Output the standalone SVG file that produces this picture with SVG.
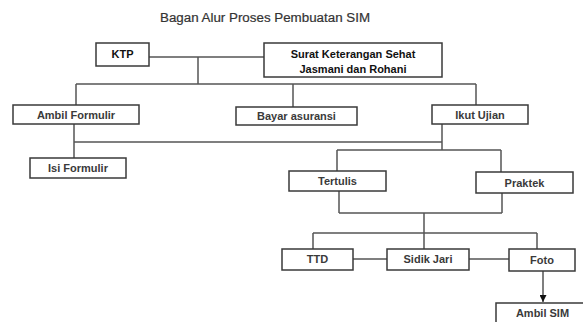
<svg xmlns="http://www.w3.org/2000/svg" width="583" height="322" viewBox="0 0 583 322">
<defs>
<style>
.box{fill:#fff;stroke:#3a3a3a;stroke-width:1.5}
.lbl{font-family:"Liberation Sans",Arial,sans-serif;font-size:11px;font-weight:bold;fill:#3a3a3a;text-anchor:middle}
.blk{fill:#111}
.ln{fill:none;stroke:#555;stroke-width:1.5}
.title{font-family:"Liberation Sans",Arial,sans-serif;font-size:12.5px;fill:#333;text-anchor:start;stroke:#333;stroke-width:0.2}
</style>
<marker id="ah" viewBox="0 0 10 10" refX="10" refY="5" markerWidth="7" markerHeight="7" orient="auto" markerUnits="userSpaceOnUse">
<path d="M0,0 L10,5 L0,10 z" fill="#111"/>
</marker>
</defs>
<rect width="583" height="322" fill="#fff"/>
<text class="title" x="160" y="22" textLength="210" lengthAdjust="spacingAndGlyphs">Bagan Alur Proses Pembuatan SIM</text>
<g id="connectors">
<path class="ln" d="M149,57 H264"/>
<path class="ln" d="M198,57 V84"/>
<path class="ln" d="M76,84 H476"/>
<path class="ln" d="M76,84 V105 M293,84 V107 M476,84 V105"/>
<path class="ln" d="M74,124 V158"/>
<path class="ln" d="M74,142 H442"/>
<path class="ln" d="M442,124 V150"/>
<path class="ln" d="M337,150 H501"/>
<path class="ln" d="M337,150 V171 M501,150 V172"/>
<path class="ln" d="M339,191 V213 M502,193 V213 M339,213 H502"/>
<path class="ln" d="M424,213 V249"/>
<path class="ln" d="M313,233 H537"/>
<path class="ln" d="M313,233 V249 M537,233 V249"/>
<path class="ln" d="M353,259 H387 M469,259 H509"/>
<path class="ln" d="M543,271 V302" stroke="#111" marker-end="url(#ah)"/>
</g>
<g id="ktp"><rect class="box" x="96" y="43" width="53" height="23"/><text class="lbl blk" x="122.5" y="58">KTP</text></g>
<g id="surat"><rect class="box" x="264" y="43" width="178" height="34"/><text class="lbl blk" x="353" y="58">Surat Keterangan Sehat</text><text class="lbl blk" x="353" y="73">Jasmani dan Rohani</text></g>
<g id="ambil-formulir"><rect class="box" x="13" y="105" width="126" height="19"/><text class="lbl" x="76" y="118.5">Ambil Formulir</text></g>
<g id="bayar-asuransi"><rect class="box" x="236" y="107" width="121" height="18"/><text class="lbl" x="296.5" y="120">Bayar asuransi</text></g>
<g id="ikut-ujian"><rect class="box" x="432" y="105" width="96" height="19"/><text class="lbl" x="480" y="118.5">Ikut Ujian</text></g>
<g id="isi-formulir"><rect class="box" x="30" y="158" width="96" height="20"/><text class="lbl" x="78" y="172">Isi Formulir</text></g>
<g id="tertulis"><rect class="box" x="289" y="171" width="97" height="20"/><text class="lbl" x="337.5" y="184.5">Tertulis</text></g>
<g id="praktek"><rect class="box" x="476" y="172" width="97" height="21"/><text class="lbl" x="524.5" y="186.5">Praktek</text></g>
<g id="ttd"><rect class="box" x="282" y="249" width="71" height="21"/><text class="lbl" x="317.5" y="263">TTD</text></g>
<g id="sidik-jari"><rect class="box" x="387" y="249" width="82" height="21"/><text class="lbl" x="428" y="263">Sidik Jari</text></g>
<g id="foto"><rect class="box" x="509" y="249" width="66" height="22"/><text class="lbl" x="542" y="263.5">Foto</text></g>
<g id="ambil-sim"><rect class="box" x="496" y="303" width="100" height="30"/><text class="lbl" x="542.5" y="317">Ambil SIM</text></g>
</svg>
